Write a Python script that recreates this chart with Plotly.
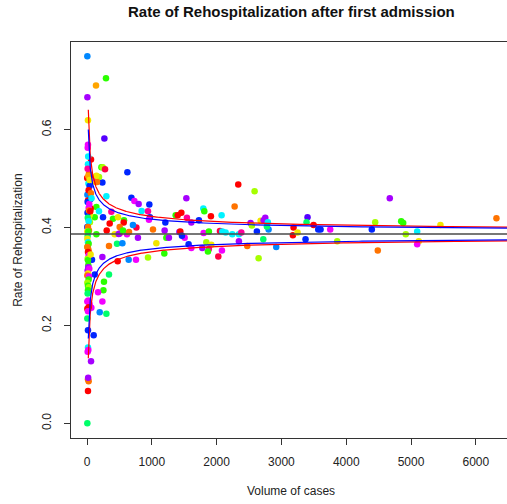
import numpy as np
import plotly.graph_objects as go

# ---- data: (volume of cases, rehospitalization rate, colour code) ----
volume = [
    623, 685, 731, 797, 962, 843, 941, 971, 956, 1533, 2334, 2586, 2278, 1795, 1810, 2077, 1912,
    1368, 1400, 1456, 1542, 1209, 1610, 1727, 1018, 1198, 1425, 1440, 1507, 1224, 1264, 1070,
    1465, 1800, 1881, 2051, 2088, 2139, 2242, 2344, 2381, 2344, 2720, 2473, 1568, 1841, 1918,
    1610, 1779, 1881, 1866, 2082, 2026, 1193, 941, 2648, 2621, 2524, 2544, 2679, 2751, 2725,
    2791, 2802, 2776, 3403, 3388, 3496, 3187, 3177, 3249, 3568, 3604, 3753, 3372, 2920, 3861,
    4672, 4447, 4395, 4487, 4848, 4879, 5454, 6318, 4919, 5095, 5120, 5095, 756, 643, 473,
    299, 237, 134, 93, 185, 145, 185, 247, 119, 401, 376, 478, 350, 571, 566, 504, 762, 709,
    786, 339, 463, 546, 504, 617, 427, 237, 119, 339, 262, 253, 170, 237, 196, 299, 103, 62,
    77, 67, 154, 304, 648, 489, 555, 145, 293, 139, 268, 62, 222, 242, 278, 52, 145, 52, 57, 26,
    5, 6, 15, 15, 11, 18, 15, 3, 30, 22, 40, 6, 25, 15, 10, 35, 45, 40, 8, 30, 50, 20, 45, 12,
    25, 5, 15, 30, 5, 20, 10, 5, 15, 25, 10, 5, 20, 30, 15, 25, 10, 15, 55, 20, 20, 10, 35, 15,
    5, 30, 25, 5, 15, 30, 15, 10, 5, 20, 40, 5, 25, 15, 5, 15, 15, 20, 10, 15, 25, 18, 15, 5,
    20, 40, 60, 70, 10,
]
rate = [
    0.513, 0.461, 0.454, 0.448, 0.447, 0.434, 0.433, 0.421, 0.416, 0.460, 0.488, 0.474, 0.443,
    0.439, 0.433, 0.425, 0.423, 0.425, 0.425, 0.430, 0.420, 0.410, 0.410, 0.415, 0.396, 0.394,
    0.391, 0.392, 0.379, 0.379, 0.379, 0.368, 0.383, 0.389, 0.392, 0.393, 0.392, 0.390, 0.386,
    0.386, 0.390, 0.372, 0.376, 0.362, 0.366, 0.370, 0.365, 0.358, 0.358, 0.356, 0.351, 0.353,
    0.341, 0.347, 0.339, 0.337, 0.392, 0.409, 0.404, 0.414, 0.420, 0.415, 0.411, 0.396, 0.402,
    0.421, 0.411, 0.405, 0.400, 0.384, 0.390, 0.396, 0.396, 0.396, 0.376, 0.360, 0.372, 0.460,
    0.411, 0.396, 0.353, 0.413, 0.409, 0.405, 0.419, 0.386, 0.392, 0.372, 0.366, 0.334, 0.334,
    0.331, 0.464, 0.492, 0.493, 0.501, 0.503, 0.442, 0.433, 0.421, 0.421, 0.418, 0.432, 0.421,
    0.408, 0.415, 0.410, 0.401, 0.400, 0.405, 0.379, 0.362, 0.367, 0.368, 0.388, 0.386, 0.386,
    0.340, 0.304, 0.304, 0.289, 0.272, 0.268, 0.249, 0.227, 0.224, 0.180, 0.127, 0.334, 0.236,
    0.493, 0.394, 0.391, 0.387, 0.394, 0.386, 0.705, 0.690, 0.582, 0.539, 0.523, 0.523, 0.519,
    0.505, 0.506, 0.458, 0.439, 0.440,
    0.750, 0.666, 0.619, 0.569, 0.563, 0.545, 0.529, 0.501, 0.510, 0.490, 0.485, 0.467, 0.476,
    0.455, 0.452, 0.448, 0.430, 0.425, 0.430, 0.435, 0.433, 0.418, 0.411, 0.420, 0.413, 0.401,
    0.401, 0.394, 0.392, 0.392, 0.383, 0.377, 0.370, 0.367, 0.360, 0.360, 0.355, 0.350, 0.350,
    0.343, 0.336, 0.333, 0.345, 0.323, 0.319, 0.312, 0.316, 0.306, 0.302, 0.300, 0.294, 0.287,
    0.281, 0.278, 0.272, 0.265, 0.249, 0.251, 0.243, 0.234, 0.237, 0.229, 0.214, 0.190, 0.155,
    0.150, 0.146, 0.090, 0.086, 0.093, 0.066, 0.000, 0.505, 0.497, 0.470, 0.460, 0.520,
]
group = list(
    "BBMUBCKBMURLOCGCRGRRKBUBOUURMGUYBMGPCCCCKUSOBLYMUKGMPGLLBULYUUCZSVSRRRYBBMBZLULBOGGYOLCYMMZR"
    "CBYMLGCBGGKYRGROPZUOSZKMYUBSGGMMZSBUBMOROUGGGAVRGLPRYBRM"
    "ZUYMMCCROCBZRRBMLYBORLLSCBOOYGSYCGGOOORMLGYGUUMYOMGLGLGSMMMRRMSBCMMOOURSAYOCK"
)

palette = {
    "R": "#FF0000", "P": "#FF0040", "O": "#FF7300", "A": "#FFA500", "Y": "#F2E600",
    "L": "#A6FF00", "G": "#2BFF00", "S": "#00FF6A", "C": "#00F2FF", "Z": "#0088FF",
    "B": "#0026FF", "V": "#5500FF", "U": "#A600FF", "M": "#F200FF", "K": "#FF0099",
}

# funnel parameters
p_mean = 0.3867
z_inner = 1.96   # blue limits
z_outer = 2.33   # red limits
n_min, n_max = 20, 6600

x_ticks = [0, 1000, 2000, 3000, 4000, 5000, 6000]
y_ticks = [0.0, 0.2, 0.4, 0.6]

# ---- figure ----
m = min(len(volume), len(rate), len(group))
colors = [palette[g] for g in group[:m]]

fig = go.Figure()
fig.add_trace(go.Scatter(
    x=volume[:m], y=rate[:m], mode="markers",
    marker=dict(size=6.5, color=colors, line=dict(width=0)),
    hoverinfo="x+y", showlegend=False,
))

n_curve = np.geomspace(n_min, n_max, 500)
se = np.sqrt(p_mean * (1 - p_mean) / n_curve)
for z, col in [(z_outer, "#FF0000"), (z_inner, "#0000FF")]:
    for sgn in (1, -1):
        fig.add_trace(go.Scatter(
            x=n_curve, y=p_mean + sgn * z * se, mode="lines",
            line=dict(color=col, width=1.2), hoverinfo="skip", showlegend=False,
        ))

fig.add_hline(y=p_mean, line=dict(color="#4a4a4a", width=1.6))

font = "Liberation Sans, Arial, Helvetica, sans-serif"
fig.update_layout(
    width=507, height=504,
    margin=dict(l=71, r=0, t=42, b=66),
    plot_bgcolor="white", paper_bgcolor="white",
    font=dict(family=font, size=12, color="#222"),
    xaxis=dict(
        range=[-247, 6481], tickvals=x_ticks, ticks="outside", ticklen=6,
        tickcolor="#333", showline=True, linecolor="#333", linewidth=1, mirror=True,
        showgrid=False, zeroline=False, tickfont=dict(size=12, color="#222"),
        ticklabelstandoff=7,
    ),
    yaxis=dict(
        range=[-0.0300, 0.7790], tickvals=y_ticks, tickformat=".1f", ticks="outside",
        ticklen=6, tickcolor="#333", showline=True, linecolor="#333", linewidth=1,
        showgrid=False, zeroline=False, tickangle=-90, tickfont=dict(size=12, color="#222"),
        ticklabelstandoff=8,
    ),
    annotations=[
        dict(text="<b>Rate of Rehospitalization after first admission</b>", xref="paper",
             yref="paper", x=0.505, y=1.0, yshift=31, xanchor="center", yanchor="middle",
             showarrow=False, font=dict(size=15, color="#111")),
        dict(text="Volume of cases", xref="paper", yref="paper", x=0.505, y=0, yshift=-53,
             xanchor="center", yanchor="middle", showarrow=False,
             font=dict(size=12, color="#222")),
        dict(text="Rate of Rehospitalization", xref="paper", yref="paper", x=-0.122, y=0.5,
             xanchor="center", yanchor="middle", textangle=-90, showarrow=False,
             font=dict(size=12, color="#222")),
    ],
)

fig.write_html("out.html")
